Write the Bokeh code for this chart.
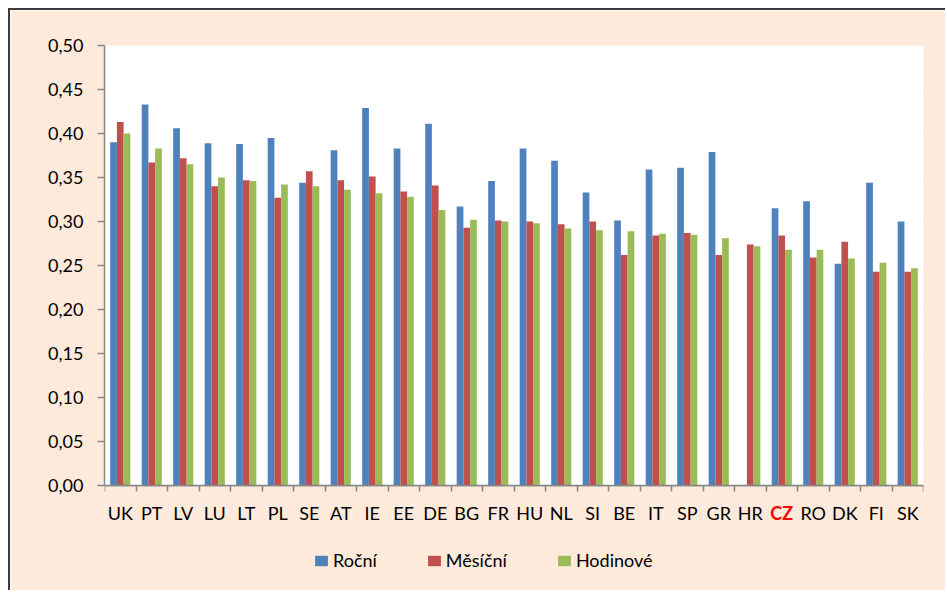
import numpy as np
from bokeh.plotting import figure
from bokeh.models import (ColumnDataSource, Range1d, LinearAxis, FixedTicker, BoxAnnotation,
                          CustomJSTickFormatter, CustomLabelingPolicy, LabelSet, Legend, LegendItem)
from bokeh.transform import dodge
from bokeh.core.properties import value
from bokeh.embed import file_html
from bokeh.resources import INLINE

countries = ["UK", "PT", "LV", "LU", "LT", "PL", "SE", "AT", "IE", "EE", "DE", "BG", "FR",
             "HU", "NL", "SI", "BE", "IT", "SP", "GR", "HR", "CZ", "RO", "DK", "FI", "SK"]
rocni = [0.390, 0.433, 0.406, 0.389, 0.388, 0.395, 0.344, 0.381, 0.429, 0.383, 0.411, 0.317, 0.346,
         0.383, 0.369, 0.333, 0.301, 0.359, 0.361, 0.379, np.nan, 0.315, 0.323, 0.252, 0.344, 0.300]
mesicni = [0.413, 0.367, 0.372, 0.340, 0.347, 0.327, 0.357, 0.347, 0.351, 0.334, 0.341, 0.293, 0.301,
           0.300, 0.297, 0.300, 0.262, 0.284, 0.287, 0.262, 0.274, 0.284, 0.259, 0.277, 0.243, 0.243]
hodinove = [0.400, 0.383, 0.365, 0.350, 0.346, 0.342, 0.340, 0.336, 0.332, 0.328, 0.313, 0.302, 0.300,
            0.298, 0.292, 0.290, 0.289, 0.286, 0.285, 0.281, 0.272, 0.268, 0.268, 0.258, 0.253, 0.247]
series_names = ["Roční", "Měsíční", "Hodinové"]
series_colors = ["#4F81BD", "#C0504D", "#9BBB59"]
y_ticks = [0.0, 0.05, 0.1, 0.15, 0.2, 0.25, 0.3, 0.35, 0.4, 0.45, 0.5]
highlight = "CZ"

FONT = "Lato"
GRID = "#868686"
PEACH = "#FDEADA"

n = len(countries)
src = ColumnDataSource(dict(
    country=countries,
    xc=np.arange(n) + 0.5,
    rocni=rocni,
    mesicni=mesicni,
    hodinove=hodinove,
    y0=[0.0] * n,
    lab_color=["#FF0000" if c == highlight else "#000000" for c in countries],
    lab_style=["bold" if c == highlight else "normal" for c in countries],
))

y_lo, y_hi = y_ticks[0], y_ticks[-1]
# frame extends below zero so category labels & legend live inside it
y_bottom = y_lo - (592 - 485) / 880 * (y_hi - y_lo) / 0.5

p = figure(width=937, height=582, x_range=Range1d(0, n), y_range=Range1d(y_bottom, y_hi),
           output_backend="svg", toolbar_location=None, x_axis_location=None,
           min_border_left=94, min_border_right=24, min_border_top=35, min_border_bottom=0,
           background_fill_color=PEACH, border_fill_color=PEACH,
           outline_line_color=None)
p.styles = {"margin-left": "8px", "margin-top": "8px",
            "border-left": "2px solid #3c3c3c", "border-top": "2px solid #3c3c3c"}

# white plot area
p.add_layout(BoxAnnotation(left=0, right=n, bottom=y_lo, top=y_hi, fill_color="white",
                           fill_alpha=1, line_color=None, level="underlay"))

bw = 0.213
for col, off, color in zip(["rocni", "mesicni", "hodinove"], [-bw, 0, bw], series_colors):
    p.vbar(x=dodge("xc", off), top=col, width=bw, bottom=0, source=src,
           fill_color=color, line_color=None)

# y axis
ya = p.yaxis[0]
ya.ticker = FixedTicker(ticks=y_ticks)
ya.bounds = (y_lo, y_hi)
ya.formatter = CustomJSTickFormatter(code="return tick.toFixed(2).replace('.', ',');")
ya.major_label_text_font = FONT
ya.major_label_text_font_size = "18px"
ya.major_label_text_color = "#000000"
ya.axis_line_color = GRID
ya.axis_line_width = 1.5
ya.major_tick_line_color = GRID
ya.major_tick_line_width = 1.5
ya.major_tick_out = 7
ya.major_tick_in = 0
ya.minor_tick_line_color = None
ya.major_label_standoff = 14

p.ygrid.grid_line_color = GRID
p.ygrid.grid_line_width = 1.5
p.ygrid.ticker = FixedTicker(ticks=y_ticks)
p.xgrid.grid_line_color = None

# x axis at y=0 with ticks at category boundaries (no labels of its own)
no_labels = CustomLabelingPolicy(
    code="if (indices.clear) { indices.clear(); return indices; } return [];")
xa = LinearAxis(ticker=FixedTicker(ticks=list(range(n + 1))), fixed_location=y_lo,
                major_label_policy=no_labels,
                major_label_text_font_size="0px", axis_line_color=GRID, axis_line_width=1.5,
                major_tick_line_color=GRID, major_tick_line_width=1.5,
                major_tick_out=6, major_tick_in=0, minor_tick_line_color=None)
p.add_layout(xa, "below")

labels = LabelSet(x="xc", y="y0", text="country", source=src,
                  text_align="center", text_baseline="middle", y_offset=-27,
                  text_color="lab_color", text_font_style="lab_style",
                  text_font=value(FONT), text_font_size="18px")
p.add_layout(labels)

# legend with square swatches (placeholder quads that draw nothing in the plot)
swatch_src = ColumnDataSource(dict(l=[np.nan], r=[np.nan], b=[np.nan], t=[np.nan]))
swatches = [p.quad(left="l", right="r", bottom="b", top="t", source=swatch_src,
                   fill_color=c, line_color=None) for c in series_colors]
legend = Legend(items=[LegendItem(label=s, renderers=[r]) for s, r in zip(series_names, swatches)],
                location=(209, 21), orientation="horizontal",
                background_fill_alpha=0, border_line_color=None,
                glyph_width=16, glyph_height=13, label_standoff=4, spacing=49,
                padding=0, margin=0, label_height=20,
                label_text_font=FONT, label_text_font_size="18px", label_text_color="#000000")
p.add_layout(legend)

open("out.html", "w").write(file_html(p, INLINE))
